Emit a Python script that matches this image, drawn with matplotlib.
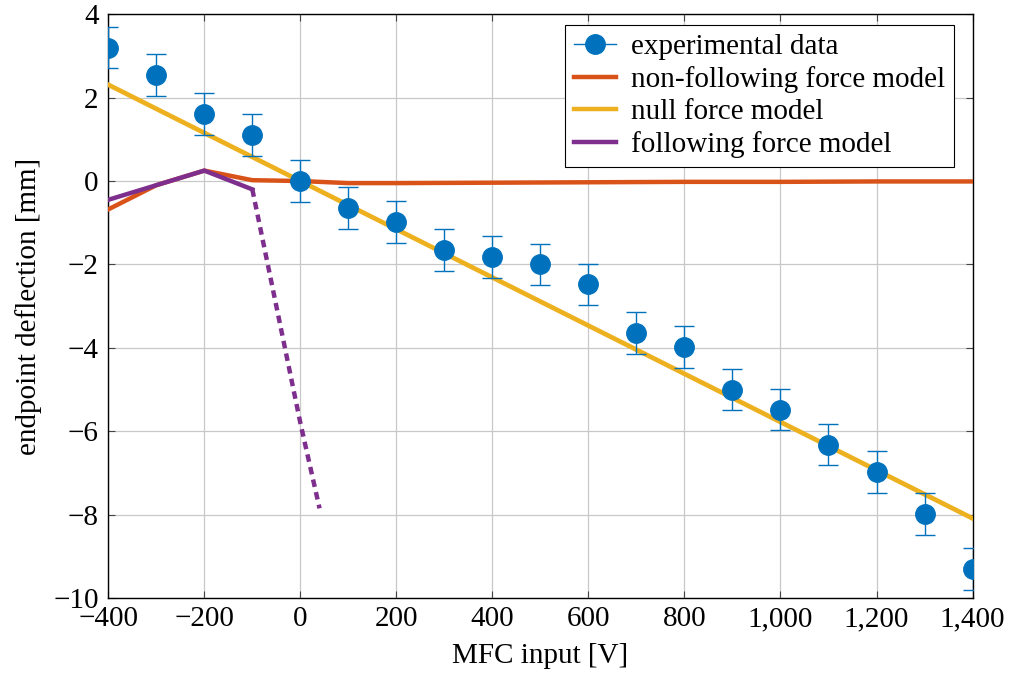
import matplotlib.pyplot as plt
from matplotlib.lines import Line2D
from matplotlib.ticker import FuncFormatter

plt.rcParams['font.family'] = ['Liberation Serif', 'DejaVu Serif']
plt.rcParams['axes.unicode_minus'] = True

# experimental data
exp_x = [-400, -300, -200, -100, 0, 100, 200, 300, 400, 500, 600, 700,
         800, 900, 1000, 1100, 1200, 1300, 1400]
exp_y = [3.2, 2.55, 1.6, 1.1, 0.0, -0.65, -0.98, -1.65, -1.82, -2.0, -2.48,
         -3.65, -3.98, -5.0, -5.48, -6.32, -6.98, -7.98, -9.3]
exp_err = [0.5] * len(exp_x)

# non-following force model
nf_x = [-400, -300, -200, -100, 0, 100, 200, 400, 600, 800, 1000, 1200, 1400]
nf_y = [-0.68, -0.1, 0.25, 0.02, 0.0, -0.05, -0.05, -0.04, -0.03, -0.02,
        -0.02, -0.01, -0.01]

# null force model
null_x = [-400, 1400]
null_y = [2.31, -8.09]

# following force model (solid part, then dotted part)
fol_x = [-400, -300, -200, -100]
fol_y = [-0.45, -0.1, 0.25, -0.2]
fol_dot_x = [-100, -50, 0, 40]
fol_dot_y = [-0.2, -3.0, -5.8, -7.85]

blue = '#0072BD'
orange = '#D95319'
yellow = '#EDB120'
purple = '#7E2F8E'

fig, ax = plt.subplots(figsize=(10.12, 6.78), dpi=100)
fig.subplots_adjust(left=0.107, right=0.961, top=0.979, bottom=0.118)

ax.plot(nf_x, nf_y, color=orange, lw=3.2, zorder=3)
ax.plot(null_x, null_y, color=yellow, lw=3.4, zorder=3)
ax.plot(fol_x, fol_y, color=purple, lw=3.2, zorder=3, solid_joinstyle='miter')
ax.plot(fol_dot_x, fol_dot_y, color=purple, lw=3.2, ls=(0, (1.7, 1.2)),
        dash_capstyle='butt', zorder=3)
ax.errorbar(exp_x, exp_y, yerr=exp_err, fmt='o', color=blue, ms=14,
            ecolor=blue, elinewidth=1.0, capsize=7, capthick=1.0, zorder=4)

ax.set_xlim(-400, 1400)
ax.set_ylim(-10, 4)
ax.set_xticks(range(-400, 1401, 200))
ax.set_yticks(range(-10, 5, 2))
ax.xaxis.set_major_formatter(FuncFormatter(lambda v, p: '{:,}'.format(int(v)).replace('-', '\u2212')))
ax.yaxis.set_major_formatter(FuncFormatter(lambda v, p: str(int(v)).replace('-', '\u2212')))
ax.tick_params(direction='in', top=True, right=True, labelsize=21, length=5,
               color='#444444')
ax.tick_params(axis='x', pad=6)
ax.tick_params(axis='y', pad=7)
ax.grid(True, color='#c8c8c8', lw=0.9)
ax.set_axisbelow(True)
for s in ax.spines.values():
    s.set_linewidth(1.0)

ax.set_xlabel('MFC input [V]', fontsize=21, labelpad=8)
ax.set_ylabel('endpoint deflection [mm]', fontsize=21, labelpad=8)

handles = [
    Line2D([], [], color=blue, lw=1.0, marker='o', ms=14),
    Line2D([], [], color=orange, lw=3.2),
    Line2D([], [], color=yellow, lw=3.2),
    Line2D([], [], color=purple, lw=3.2),
]
labels = ['experimental data', 'non-following force model',
          'null force model', 'following force model']
leg = ax.legend(handles, labels, loc='upper right', bbox_to_anchor=(0.978, 0.982),
                fontsize=21, fancybox=False, edgecolor='black', framealpha=1,
                handlelength=1.45, handletextpad=0.5, borderpad=0.3,
                labelspacing=0.2, borderaxespad=0)
leg.get_frame().set_linewidth(0.8)

fig.savefig('out.png', dpi=100)
